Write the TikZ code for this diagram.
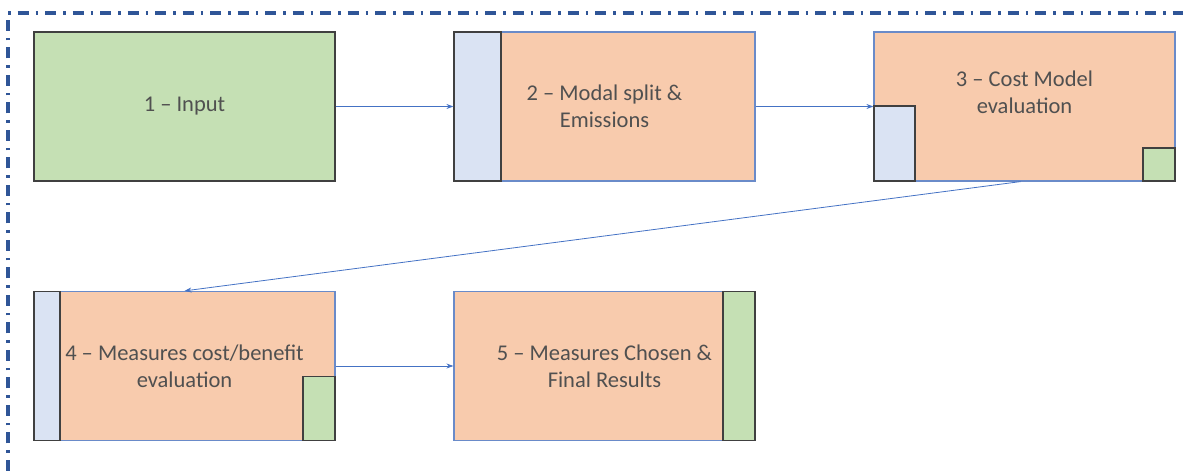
\documentclass[tikz,border=0pt]{standalone}
\usepackage{fontspec}
\setmainfont{Carlito}
\usetikzlibrary{arrows.meta}

\definecolor{inputgreen}{HTML}{C5E0B4}
\definecolor{steporange}{HTML}{F8CBAD}
\definecolor{stripblue}{HTML}{DAE3F3}
\definecolor{edgeblue}{HTML}{6A8BC9}
\definecolor{linkblue}{HTML}{4472C4}
\definecolor{framblue}{HTML}{2F5597}
\definecolor{labelgray}{HTML}{505050}

\begin{document}
\begin{tikzpicture}
                \tikzset{x=1pt, y=1pt}
                \tikzstyle{stage}=[rectangle, draw=edgeblue, line width=1.2pt, fill=steporange, minimum width=301pt, minimum height=149pt, text=labelgray, align=center, font=\fontsize{22.5}{27}\selectfont]
                \tikzstyle{inbox}=[stage, draw=black!75, fill=inputgreen]
                \tikzstyle{blue tab}=[rectangle, draw=black!75, line width=1.2pt, fill=stripblue, inner sep=0pt]
                \tikzstyle{green tab}=[rectangle, draw=black!75, line width=1.2pt, fill=inputgreen, inner sep=0pt]
                \tikzstyle{link}=[draw=linkblue, line width=0.8pt, -{Stealth[length=7pt, width=5pt]}]

                \useasboundingbox (0, 0) rectangle (1183, 471);

                % dash-dot frame along the top and left
                \draw [framblue, line width=3.6pt, dash pattern=on 11pt off 7pt on 2.5pt off 7pt]
                                    (8, 0) -- (8, 458) -- (1183, 458);

                \draw (184.5, 364.5) node[inbox]   (input)   {1 -- Input};
                \draw (604.5, 364.5) node[stage]   (split)   {2 -- Modal split \&\\Emissions};
                \draw (1024.5, 364.5) node[stage]  (cost)    {};
                \draw (184.5, 105.0) node[stage]   (measure) {4 -- Measures cost/benefit\\evaluation};
                \draw (604.5, 105.0) node[stage]   (result)  {5 -- Measures Chosen \&\\Final Results};

                \draw (1024.5, 379.0) node[text=labelgray, align=center, font=\fontsize{22.5}{27}\selectfont]
                                                   (costlbl) {3 -- Cost Model\\evaluation};

                % side tabs
                \draw (split.north west)   node[blue tab, anchor=north west, minimum width=47pt, minimum height=149pt]  (splittab) {};
                \draw (cost.south west)    node[blue tab, anchor=south west, minimum width=41pt, minimum height=75pt]   (costin)   {};
                \draw (cost.south east)    node[green tab, anchor=south east, minimum width=32pt, minimum height=33pt]  (costout)  {};
                \draw (measure.north west) node[blue tab, anchor=north west, minimum width=26pt, minimum height=149pt]  (measin)   {};
                \draw (measure.south east) node[green tab, anchor=south east, minimum width=32pt, minimum height=64pt]  (measout)  {};
                \draw (result.north east)  node[green tab, anchor=north east, minimum width=32pt, minimum height=149pt] (resout)   {};

                \draw [link]        (input) -- (split);
                \draw [link]        (split) -- (cost.west);
                \draw [link]        ([xshift=-4pt]cost.south) -- (measure.north);
                \draw [link]        (measure) -- (result);
            \end{tikzpicture}
\end{document}
